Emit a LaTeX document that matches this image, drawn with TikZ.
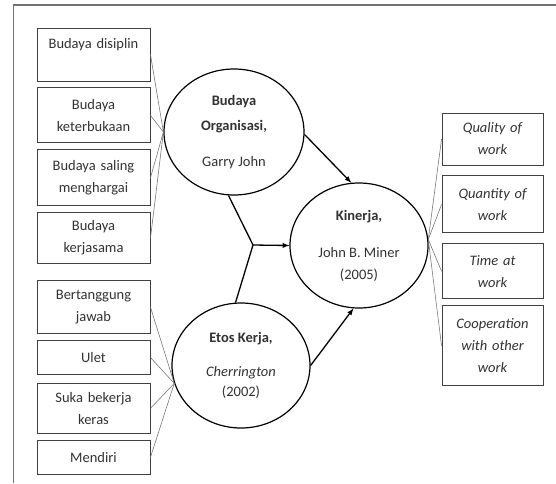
\documentclass[tikz,border=0pt]{standalone}
\usepackage{fontspec}
\setmainfont{Carlito}
\usepackage{tikz}
\usetikzlibrary{positioning,shapes.geometric}
\definecolor{linkgray}{RGB}{120,120,120}
\definecolor{textgray}{RGB}{50,50,50}
\newcommand{\figfont}{\fontsize{14.5}{22}\selectfont}

\begin{document}
\begin{tikzpicture}[x=1pt,y=-1pt,
  indbox/.style={draw=black!75,line width=0.9pt,font=\figfont,text=textgray,text width=105pt,minimum width=113pt,align=center,inner sep=2pt},
  kbox/.style={indbox,font=\figfont\itshape,text width=93pt,minimum width=101pt},
  varcirc/.style={draw,ellipse,line width=1.2pt,font=\figfont,text=textgray,minimum width=138pt,minimum height=125pt,inner sep=0pt,align=center},
  link/.style={draw=linkgray,line width=0.6pt},
  pathway/.style={line width=1.3pt,-latex}]
\useasboundingbox (0,0) rectangle (556,483);
\draw[black!55,line width=1.5pt](13.5,483)--(13.5,5)--(556,5);

\node[indbox,minimum height=53pt](O1) at (93.5,54.5){Budaya disiplin\\\mbox{}};
\node[indbox,minimum height=55pt,below=6pt of O1](O2){Budaya\\keterbukaan};
\node[indbox,minimum height=56pt,below=6pt of O2](O3){Budaya saling\\menghargai};
\node[indbox,minimum height=51pt,below=6pt of O3](O4){Budaya\\kerjasama};

\node[indbox,minimum height=53pt,below=16pt of O4](E1){Bertanggung\\jawab};
\node[indbox,minimum height=34pt,below=6pt of E1](E2){Ulet};
\node[indbox,minimum height=50pt,below=8pt of E2](E3){Suka bekerja\\keras};
\node[indbox,minimum height=34pt,below=6pt of E3](E4){Mendiri};

\node[kbox,minimum height=52pt](K1) at (492.5,139){Quality of\\work};
\node[kbox,minimum height=57pt,below=10pt of K1](K2){Quantity of\\work};
\node[kbox,minimum height=55pt,below=10pt of K2](K3){Time at\\work};
\node[kbox,minimum height=80pt,below=6pt of K3](K4){Cooperation\\with other\\work};

\node[varcirc,minimum width=140pt,minimum height=126pt](BO) at (234,132)
  {\textbf{Budaya}\\[3pt]\textbf{Organisasi,}\\[14pt]Garry John};
\node[varcirc](EK) at (241,365.5){\textbf{Etos Kerja,}\\[12pt]\textit{Cherrington}\\[-2pt](2002)};
\node[varcirc](KN) at (359,245.5){\textbf{Kinerja,}\\[15pt]John B. Miner\\(2005)};

\draw[link](O1.east)--(BO.west); \draw[link](O2.east)--(BO.west);
\draw[link](O3.east)--(BO.west); \draw[link](O4.east)--(BO.west);
\draw[link](E1.east)--(EK.195); \draw[link](E2.east)--(EK.195);
\draw[link](E3.east)--(EK.195); \draw[link](E4.east)--(EK.195);
\draw[link](KN.5)--(K1.west); \draw[link](KN.5)--(K2.west);
\draw[link](KN.5)--(K3.west); \draw[link](KN.5)--(K4.west);

\coordinate(J) at (253,245);
\draw[line width=1.3pt](BO.-95)--(J)--(EK.95);
\draw[pathway](J)--(KN.west);
\draw[pathway](BO.-2)--(KN.97);
\draw[pathway](EK.east)--(KN.-95);
\end{tikzpicture}
\end{document}
